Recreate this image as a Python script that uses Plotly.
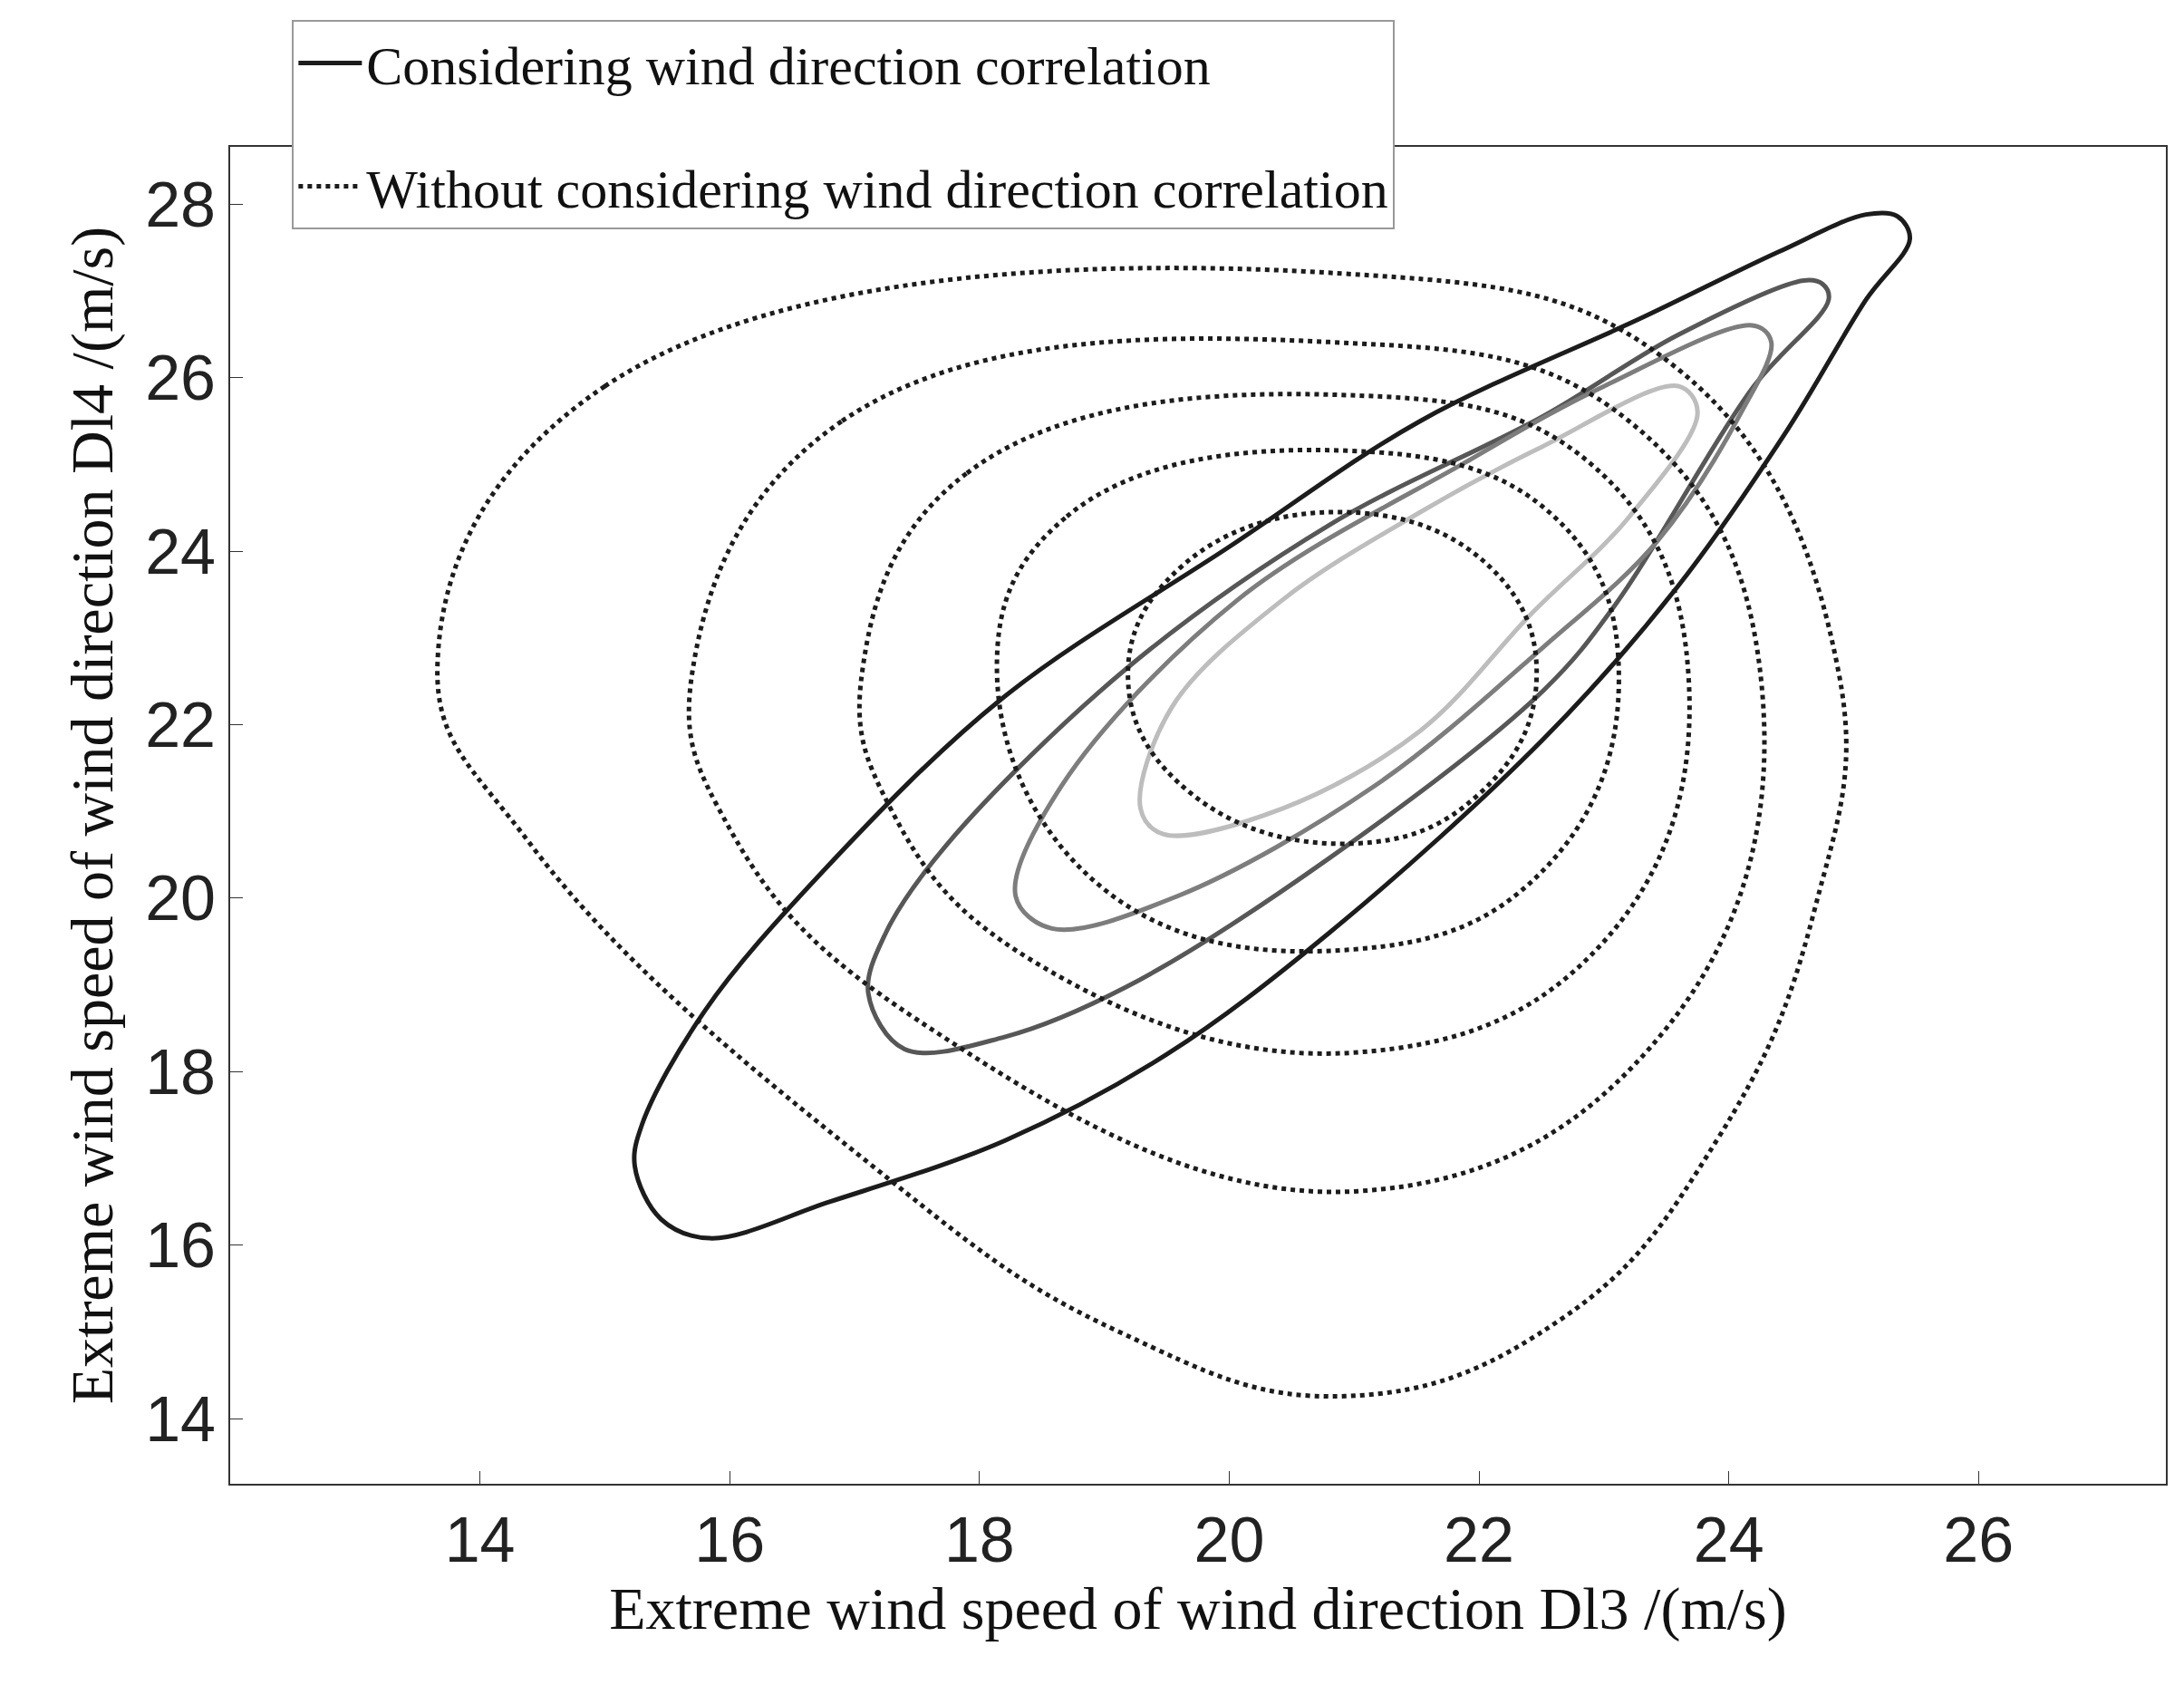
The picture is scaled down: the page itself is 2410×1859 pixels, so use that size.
import plotly.graph_objects as go

# Solid contours (considering correlation), outer -> inner
solid_x = [
    [15.24, 15.45, 15.84, 16.8, 18.21, 19.5, 20.8, 22.52, 23.59, 24.47, 25.1, 25.45, 25.35, 25.1, 24.4, 23.32, 21.53, 20.0, 18.18, 16.74, 15.8, 15.3],
    [17.11, 17.4, 18.2, 19.18, 20.8, 22.52, 23.1, 24.19, 24.8, 24.75, 24.6, 23.59, 22.52, 20.8, 19.18, 17.74, 17.25],
    [18.29, 18.58, 19.58, 21.17, 22.52, 23.43, 24.1, 24.34, 24.2, 23.0, 21.9, 20.06, 18.66],
    [19.29, 19.47, 20.42, 21.53, 22.42, 23.2, 23.75, 23.6, 22.5, 21.53, 20.42, 19.54],
]
solid_y = [
    [16.91, 16.3, 16.08, 16.5, 17.21, 18.2, 19.6, 21.84, 23.59, 25.4, 26.9, 27.6, 27.86, 27.88, 27.45, 26.7, 25.5, 24.05, 22.3, 20.3, 18.7, 17.4],
    [18.9, 18.26, 18.4, 18.98, 20.46, 22.4, 23.4, 25.88, 26.9, 27.08, 27.12, 26.49, 25.56, 24.3, 22.65, 20.62, 19.6],
    [20.02, 19.65, 20.02, 21.3, 22.9, 24.12, 25.6, 26.41, 26.6, 25.9, 25.03, 23.43, 21.3],
    [21.03, 20.74, 21.03, 21.93, 23.28, 24.39, 25.6, 25.9, 25.2, 24.45, 23.43, 22.2],
]
solid_colors = ["#1c1c1c", "#575757", "#7d7d7d", "#bdbdbd"]

# Dotted contours (without correlation), outer -> inner
dot_x = [
    [13.66, 15.0, 20.9, 23.6, 24.88, 24.68, 23.9, 22.68, 20.93, 19.12, 17.12, 14.4],
    [15.7, 16.9, 20.8, 23.2, 24.26, 23.5, 21.0, 17.5, 16.0],
    [17.06, 17.9, 20.9, 22.9, 23.68, 23.0, 21.0, 18.4, 17.3],
    [18.14, 18.7, 20.9, 22.6, 23.12, 22.5, 21.0, 19.0],
    [19.19, 19.6, 20.9, 22.1, 22.46, 22.0, 21.0, 19.7],
]
dot_y = [
    [22.7, 25.9, 27.2, 26.09, 22.6, 19.83, 17.2, 15.17, 14.26, 15.0, 16.94, 20.63],
    [22.6, 25.5, 26.41, 25.5, 22.5, 18.5, 16.62, 18.6, 20.8],
    [22.6, 24.9, 25.8, 25.0, 22.5, 19.5, 18.22, 19.3, 21.0],
    [22.6, 24.4, 25.16, 24.4, 22.5, 20.3, 19.41, 20.1],
    [22.5, 23.8, 24.45, 23.8, 22.5, 21.2, 20.63, 21.2],
]

legend_names = ["Considering wind direction correlation",
                "Without considering wind direction correlation"]
x_ticks = [14, 16, 18, 20, 22, 24, 26]
y_ticks = [14, 16, 18, 20, 22, 24, 26, 28]

fig = go.Figure()
for i, (xs, ys) in enumerate(zip(solid_x, solid_y)):
    fig.add_trace(go.Scatter(x=xs + xs[:1], y=ys + ys[:1], mode="lines",
                             line=dict(color=solid_colors[i], width=5, shape="spline", smoothing=1.0),
                             name=legend_names[0], legendgroup="a", showlegend=(i == 0)))
for i, (xs, ys) in enumerate(zip(dot_x, dot_y)):
    fig.add_trace(go.Scatter(x=xs + xs[:1], y=ys + ys[:1], mode="lines",
                             line=dict(color="#1c1c1c", width=5, dash="dot", shape="spline", smoothing=1.2),
                             name=legend_names[1], legendgroup="b", showlegend=(i == 0)))

axis_common = dict(showgrid=False, zeroline=False, showline=True, linecolor="#333",
                   linewidth=2, mirror=True, ticks="inside", ticklen=14, tickcolor="#333",
                   tickfont=dict(family="Liberation Sans", size=70, color="#222"))
fig.update_layout(
    width=2410, height=1859, plot_bgcolor="white", paper_bgcolor="white",
    margin=dict(l=246, r=28, t=154, b=230),
    xaxis=dict(range=[12.0, 27.5], tickvals=x_ticks,
               title=dict(text="Extreme wind speed of wind direction Dl3 /(m/s)",
                          font=dict(family="Liberation Serif", size=66, color="#111"), standoff=14),
               **axis_common),
    yaxis=dict(range=[13.25, 28.66], tickvals=y_ticks,
               title=dict(text="Extreme wind speed of wind direction Dl4 /(m/s)",
                          font=dict(family="Liberation Serif", size=66, color="#111"), standoff=14),
               **axis_common),
    legend=dict(x=0.032, y=1.095, xanchor="left", yanchor="top",
                bgcolor="white", bordercolor="#999", borderwidth=2,
                font=dict(family="Liberation Serif", size=60, color="#111"),
                itemwidth=70, tracegroupgap=55),
)
fig.write_html("out.html")
